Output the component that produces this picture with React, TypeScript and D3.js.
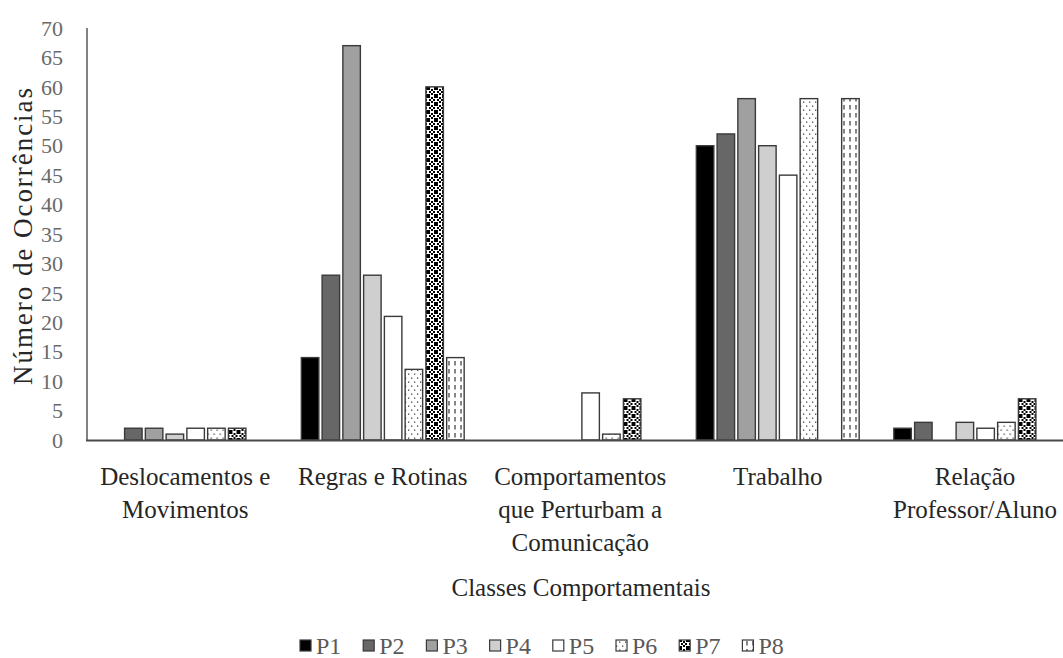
import React, { useEffect } from "react";
import * as d3 from "d3";

const categories = [
  "Deslocamentos e\nMovimentos",
  "Regras e Rotinas",
  "Comportamentos\nque Perturbam a\nComunicação",
  "Trabalho",
  "Relação\nProfessor/Aluno",
];
const seriesNames = ["P1", "P2", "P3", "P4", "P5", "P6", "P7", "P8"];
const P1 = [0, 14, 0, 50, 2];
const P2 = [2, 28, 0, 52, 3];
const P3 = [2, 67, 0, 58, 0];
const P4 = [1, 28, 0, 50, 3];
const P5 = [2, 21, 8, 45, 2];
const P6 = [2, 12, 1, 58, 3];
const P7 = [2, 60, 7, 0, 7];
const P8 = [0, 14, 0, 58, 0];
const seriesValues = [P1, P2, P3, P4, P5, P6, P7, P8];
const yTicks = [0, 5, 10, 15, 20, 25, 30, 35, 40, 45, 50, 55, 60, 65, 70];

const W = 1063;
const H = 658;
const FONT = "'Liberation Serif', 'Times New Roman', serif";

const fills = [
  "#000000",
  "#676767",
  "#a0a0a0",
  "#cfcfcf",
  "#ffffff",
  "url(#patP6)",
  "url(#patP7)",
  "url(#patP8)",
];

export default function App() {
  useEffect(() => {
    document.body.style.margin = "0";
  }, []);

  const x0 = d3.scaleBand<number>().domain(d3.range(categories.length)).range([86.5, 1074]).padding(0);
  const x1 = d3
    .scaleBand<number>()
    .domain(d3.range(seriesNames.length))
    .range([0, x0.bandwidth()])
    .paddingInner(0.157)
    .paddingOuter(0.835);
  const y = d3.scaleLinear().domain([0, 70]).range([440, 28]);

  const legendStep = 63.2;
  const legendX0 = 300;

  return (
    <svg width={W} height={H} style={{ display: "block", background: "#fff" }} fontFamily={FONT}>
      <defs>
        <pattern id="patP6" patternUnits="userSpaceOnUse" width="6" height="8">
          <rect width="6" height="8" fill="#fff" />
          <rect x="1" y="1.5" width="1.3" height="1.3" fill="#444" />
          <rect x="4" y="5.5" width="1.3" height="1.3" fill="#444" />
        </pattern>
        <pattern id="patP7" patternUnits="userSpaceOnUse" width="8" height="8">
          <rect width="8" height="8" fill="#fff" />
          <rect x="0" y="0" width="2" height="2" fill="#000" />
          <rect x="3" y="1" width="2" height="2" fill="#000" />
          <rect x="6" y="0" width="2" height="2" fill="#000" />
          <rect x="1" y="3" width="2" height="2" fill="#000" />
          <rect x="5" y="3" width="2" height="2" fill="#000" />
          <rect x="0" y="6" width="2" height="2" fill="#000" />
          <rect x="3" y="5" width="2" height="2" fill="#000" />
          <rect x="6" y="6" width="2" height="2" fill="#000" />
        </pattern>
        <pattern id="patP8" patternUnits="userSpaceOnUse" width="6" height="8">
          <rect width="6" height="8" fill="#fff" />
          <line x1="3" y1="1" x2="3" y2="5.5" stroke="#333" strokeWidth="1.2" />
        </pattern>
      </defs>

      {/* Y tick labels */}
      {yTicks.map((t) => (
        <text key={t} x={63} y={y(t)} dy="0.35em" textAnchor="end" fontSize={22} fill="#6a6a6a">
          {t}
        </text>
      ))}

      {/* Bars */}
      {categories.map((c, ci) => (
        <g key={ci} transform={`translate(${x0(ci)},0)`}>
          {seriesValues.map((vals, si) =>
            vals[ci] > 0 ? (
              <rect
                key={si}
                x={x1(si)}
                y={y(vals[ci])}
                width={x1.bandwidth()}
                height={y(0) - y(vals[ci])}
                fill={fills[si]}
                stroke="#3a3a3a"
                strokeWidth={1.4}
              />
            ) : null
          )}
        </g>
      ))}

      {/* Axes lines */}
      <line x1={87} y1={28} x2={87} y2={440.5} stroke="#595959" strokeWidth={1.5} />
      <line x1={86} y1={440.5} x2={W} y2={440.5} stroke="#4a4a4a" strokeWidth={1.8} />

      {/* Category labels */}
      {categories.map((c, ci) => {
        const cx = Math.min((x0(ci) as number) + x0.bandwidth() / 2, W - 88);
        return (
          <text key={ci} textAnchor="middle" fontSize={25} fill="#262626">
            {c.split("\n").map((line, li) => (
              <tspan key={li} x={cx} y={485 + li * 33}>
                {line}
              </tspan>
            ))}
          </text>
        );
      })}

      {/* Axis titles */}
      <text x={581} y={596} textAnchor="middle" fontSize={25} fill="#262626">
        Classes Comportamentais
      </text>
      <text
        transform="translate(32,236.5) rotate(-90)"
        textAnchor="middle"
        fontSize={27}
        fill="#262626"
        textLength={297}
        lengthAdjust="spacing"
      >
        Número de Ocorrências
      </text>

      {/* Legend */}
      {seriesNames.map((s, si) => {
        const lx = legendX0 + si * legendStep;
        return (
          <g key={s}>
            <rect x={lx} y={640} width={11} height={11} fill={fills[si]} stroke="#3a3a3a" strokeWidth={1.2} />
            <text x={lx + 16} y={654} fontSize={24} fill="#595959">
              {s}
            </text>
          </g>
        );
      })}
    </svg>
  );
}
